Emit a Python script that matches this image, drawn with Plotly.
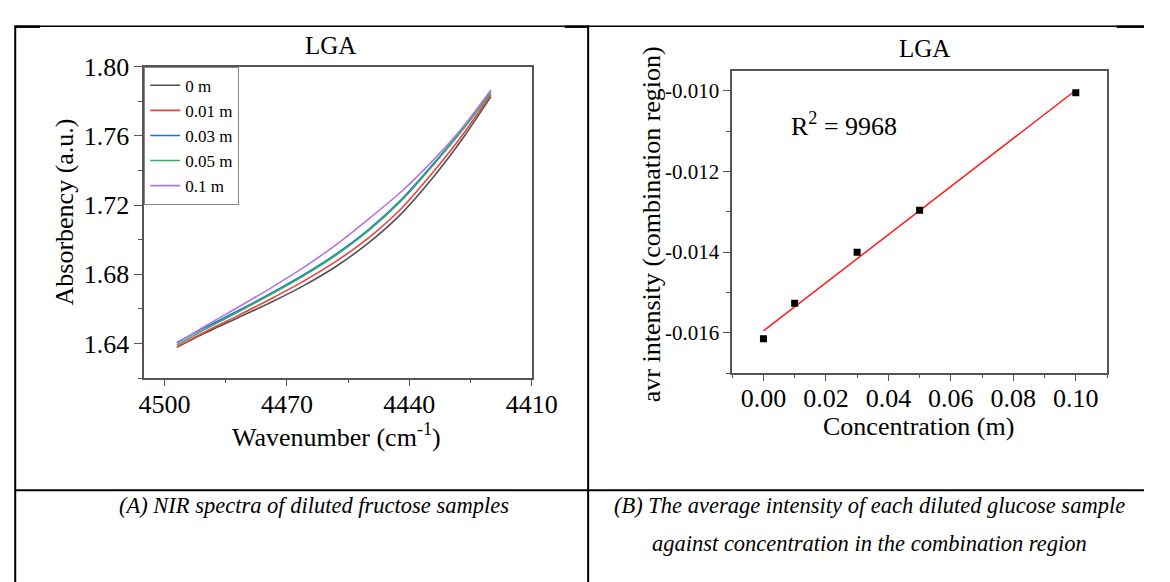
import numpy as np
import plotly.graph_objects as go

W, H = 1170, 582
FONT = "Liberation Serif, Times New Roman, serif"

# ---------------- data: panel A (NIR spectra) ----------------
wavenumber = [4497, 4490, 4482, 4474, 4466, 4458, 4450, 4442, 4434, 4427, 4420]
abs_0m   = [1.6377, 1.6461, 1.6549, 1.6637, 1.6733, 1.6845, 1.6981, 1.7149, 1.7365, 1.7582, 1.7827]
abs_001m = [1.6380, 1.6468, 1.6561, 1.6657, 1.6759, 1.6874, 1.7011, 1.7179, 1.7395, 1.7604, 1.7839]
abs_003m = [1.6405, 1.6493, 1.6589, 1.6689, 1.6796, 1.6916, 1.7058, 1.7230, 1.7441, 1.7639, 1.7864]
abs_005m = [1.6390, 1.6483, 1.6582, 1.6683, 1.6790, 1.6910, 1.7052, 1.7224, 1.7435, 1.7632, 1.7849]
abs_01m  = [1.6400, 1.6501, 1.6609, 1.6720, 1.6838, 1.6970, 1.7119, 1.7277, 1.7463, 1.7647, 1.7862]
series_names = ["0 m", "0.01 m", "0.03 m", "0.05 m", "0.1 m"]
series_colors = ["#515151", "#F14040", "#1A6FDF", "#37AD6B", "#B177DE"]

a_xticks = [4500, 4470, 4440, 4410]
a_xminor = [4485, 4455, 4425]
a_yticks = [1.64, 1.68, 1.72, 1.76, 1.80]
a_yminor = [1.62, 1.66, 1.70, 1.74, 1.78]

# ---------------- data: panel B (avg intensity) ----------------
conc = [0.00, 0.01, 0.03, 0.05, 0.10]
avr_intensity = [-0.01615, -0.01527, -0.01400, -0.01296, -0.01005]

b_xticks = [0.00, 0.02, 0.04, 0.06, 0.08, 0.10]
b_xminor = [-0.01, 0.01, 0.03, 0.05, 0.07, 0.09, 0.11]
b_yticks = [-0.016, -0.014, -0.012, -0.010]
b_yminor = [-0.017, -0.015, -0.013, -0.011]


def px(x):
    return x / W


def py(y):
    return 1 - y / H


fig = go.Figure()

for name, color, ys in zip(series_names, series_colors,
                           [abs_0m, abs_001m, abs_003m, abs_005m, abs_01m]):
    fig.add_trace(go.Scatter(
        x=wavenumber, y=ys, mode="lines", name=name,
        line=dict(color=color, width=1.6, shape="spline", smoothing=0.7),
        xaxis="x", yaxis="y"))

slope, intercept = np.polyfit(conc, avr_intensity, 1)
fit_x = [min(conc), max(conc)]
fit_y = [slope * v + intercept for v in fit_x]
fig.add_trace(go.Scatter(x=fit_x, y=fit_y, mode="lines",
                         line=dict(color="#FF1A1A", width=1.5),
                         showlegend=False, xaxis="x2", yaxis="y2"))
fig.add_trace(go.Scatter(x=conc, y=avr_intensity, mode="markers",
                         marker=dict(symbol="square", size=7, color="black"),
                         showlegend=False, xaxis="x2", yaxis="y2"))

AX = "#555555"


def axis(size=26, **kw):
    d = dict(showline=True, linecolor=AX, linewidth=1.5, mirror=True,
             ticks="outside", ticklen=8, tickwidth=1.3, tickcolor=AX,
             showgrid=False, zeroline=False,
             tickfont=dict(family=FONT, size=size, color="black"))
    d.update(kw)
    return d


def minor(vals, ln=4):
    return dict(tickmode="array", tickvals=vals, ticks="outside", ticklen=ln,
                tickwidth=1.3, tickcolor=AX, showgrid=False)


fig.update_layout(
    width=W, height=H, margin=dict(l=0, r=0, t=0, b=0),
    paper_bgcolor="white", plot_bgcolor="white",
    font=dict(family=FONT, color="black"),
    xaxis=axis(domain=[px(143), px(541)], range=[4505, 4410], anchor="y",
               ticklen=6, ticklabelstandoff=-4,
               tickmode="array", tickvals=a_xticks,
               ticktext=[str(v) for v in a_xticks], minor=minor(a_xminor, 3)),
    yaxis=axis(domain=[py(373), py(54)], range=[1.62, 1.80], anchor="x",
               tickmode="array", tickvals=a_yticks,
               ticktext=["%.2f" % v for v in a_yticks], minor=minor(a_yminor)),
    xaxis2=axis(domain=[px(747), px(1132)], range=[-0.01, 0.11], anchor="y2",
                ticklen=6, ticklabelstandoff=-5,
                tickmode="array", tickvals=b_xticks,
                ticktext=["%.2f" % v for v in b_xticks], minor=minor(b_xminor, 3)),
    yaxis2=axis(size=21, domain=[py(368), py(58)], range=[-0.017, -0.0095],
                anchor="x2", ticklen=7, tickmode="array", tickvals=b_yticks,
                ticktext=[("%.3f" % v) for v in b_yticks], minor=minor(b_yminor)),
    legend=dict(x=px(143), y=py(54), xanchor="left", yanchor="top",
                bordercolor="#888888", borderwidth=1, bgcolor="white",
                font=dict(family=FONT, size=17, color="black"),
                tracegroupgap=0, itemwidth=30),
    showlegend=True,
)

ann = []


def text(x, y, s, size=26, angle=0, xanchor="center", yanchor="middle"):
    ann.append(dict(x=px(x), y=py(y), xref="paper", yref="paper", text=s,
                    showarrow=False, textangle=angle, xanchor=xanchor,
                    yanchor=yanchor, font=dict(family=FONT, size=size, color="black")))


text(334, 32, "LGA", 25)
text(945, 35.5, "LGA", 25)
text(61, 203, "Absorbency (a.u.)", 26, angle=-90)
text(664, 215, "avr intensity (combination region)", 26, angle=-90)
text(341, 451, "Wavenumber (cm<sup>-1</sup>)", 26, yanchor="bottom")
text(938, 423, "Concentration (m)", 26)
text(805, 132, "R<sup>2</sup> = 9968", 26, xanchor="left", yanchor="bottom")
text(317, 504, "<i>(A) NIR spectra of diluted fructose samples</i>", 22.5)
text(888, 504, "<i>(B) The average intensity of each diluted glucose sample</i>", 22.5)
text(888, 543, "<i>against concentration in the combination region</i>", 22.5)

shapes = []


def seg(x0, y0, x1, y1, w=1.5):
    shapes.append(dict(type="line", xref="paper", yref="paper",
                       x0=px(x0), y0=py(y0), x1=px(x1), y1=py(y1),
                       line=dict(color="black", width=w)))


seg(10, 12.5, 1170, 12.5, 1.5)
seg(10, 13, 36, 13, 2.5)
seg(575, 13, 600, 13, 2.5)
seg(1142, 13, 1170, 13, 2.5)
seg(10.5, 12, 10.5, 582, 2)
seg(599, 12, 599, 582, 2)
seg(10, 488, 1170, 488, 2)

fig.update_layout(annotations=ann, shapes=shapes)

fig.write_html("out.html", config={"displayModeBar": False})
